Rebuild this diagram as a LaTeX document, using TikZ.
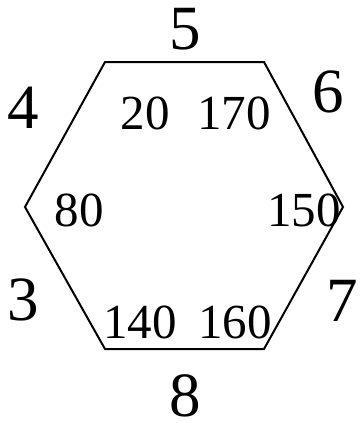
\documentclass[tikz,border=0pt]{standalone}
\usepackage{fontspec}
\setmainfont{Liberation Serif}
\begin{document}
\begin{tikzpicture}[
    x=1pt, y=-1pt,
    sidenum/.style={inner sep=0pt, font=\fontsize{63}{63}\selectfont},
    anglenum/.style={inner sep=0pt, font=\fontsize{49}{49}\selectfont},
    edge/.style={line width=2pt, line join=miter}
]
\useasboundingbox (0,0) rectangle (361,423);

% Hexagon corners
\coordinate (topleft) at (105,62);
\coordinate (topright) at (264,62);
\coordinate (right) at (343,207);
\coordinate (botright) at (264,349);
\coordinate (botleft) at (105,349);
\coordinate (left) at (25,207);

% Hexagon
\draw[edge] (topleft) -- (topright) -- (right) -- (botright) -- (botleft) -- (left) -- cycle;

% Side numbers
\node[sidenum] (side5) at (185,29) {5};
\node[sidenum] (side6) at (328,92) {6};
\node[sidenum] (side7) at (342,301) {7};
\node[sidenum] (side8) at (185,396) {8};
\node[sidenum] (side3) at (23,300) {3};
\node[sidenum] (side4) at (23,108) {4};

% Corner numbers
\node[anglenum] (ang20) at (145,113) {20};
\node[anglenum] (ang170) at (234,113) {170};
\node[anglenum] (ang150) at (304,210) {150};
\node[anglenum] (ang160) at (235,322) {160};
\node[anglenum] (ang140) at (140,322) {140};
\node[anglenum] (ang80) at (79,210) {80};
\end{tikzpicture}
\end{document}
